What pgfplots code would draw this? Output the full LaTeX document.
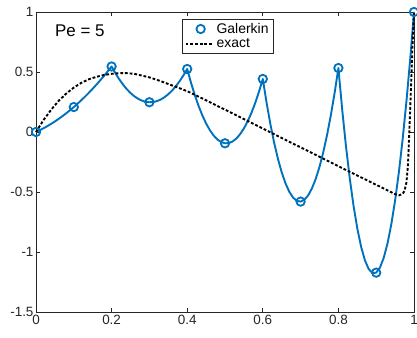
\documentclass[border=0pt]{standalone}
\usepackage{pgfplots}
\pgfplotsset{compat=1.18}
\usepackage{pgfplotstable}
\usepackage{fontspec}
\setmainfont{Liberation Sans}
\definecolor{galblue}{RGB}{0,114,189}
\definecolor{axgray}{RGB}{38,38,38}

\pgfplotsset{
  galleg/.style={legend image code/.code={\draw[##1] plot coordinates {(15bp,0bp)};}},
  exleg/.style={legend image code/.code={\draw[##1] (0bp,0bp) -- (28bp,0bp);}},
}

\pgfplotstableread{
x y
0.00 0.000
0.01 0.015
0.02 0.0312
0.03 0.0488
0.04 0.0676
0.05 0.0878
0.06 0.1092
0.07 0.1320
0.08 0.1560
0.09 0.1813
0.10 0.208
0.11 0.2360
0.12 0.2652
0.13 0.2958
0.14 0.3276
0.15 0.3608
0.16 0.3952
0.17 0.4310
0.18 0.4680
0.19 0.5064
0.20 0.546
0.21 0.4904
0.22 0.4404
0.23 0.3963
0.24 0.3578
0.25 0.3252
0.26 0.2982
0.27 0.2771
0.28 0.2616
0.29 0.2520
0.30 0.248
0.31 0.2498
0.32 0.2574
0.33 0.2707
0.34 0.2898
0.35 0.3146
0.36 0.3452
0.37 0.3815
0.38 0.4236
0.39 0.4714
0.40 0.525
0.41 0.4112
0.42 0.3088
0.43 0.2181
0.44 0.1388
0.45 0.0712
0.46 0.0150
0.47 -0.0295
0.48 -0.0626
0.49 -0.0840
0.50 -0.094
0.51 -0.0924
0.52 -0.0792
0.53 -0.0545
0.54 -0.0182
0.55 0.0296
0.56 0.0890
0.57 0.1599
0.58 0.2424
0.59 0.3364
0.60 0.442
0.61 0.2437
0.62 0.0668
0.63 -0.0888
0.64 -0.2230
0.65 -0.3359
0.66 -0.4274
0.67 -0.4976
0.68 -0.5464
0.69 -0.5739
0.70 -0.58
0.71 -0.5647
0.72 -0.5282
0.73 -0.4702
0.74 -0.3910
0.75 -0.2903
0.76 -0.1684
0.77 -0.0250
0.78 0.1396
0.79 0.3257
0.80 0.533
0.81 0.1880
0.82 -0.1182
0.83 -0.3856
0.84 -0.6142
0.85 -0.8042
0.86 -0.9552
0.87 -1.0676
0.88 -1.1412
0.89 -1.1760
0.90 -1.172
0.91 -1.1292
0.92 -1.0478
0.93 -0.9274
0.94 -0.7684
0.95 -0.5706
0.96 -0.3340
0.97 -0.0586
0.98 0.2554
0.99 0.6084
1.00 1.0
}\galline

\pgfplotstableread{
x y
0.0 0.0
0.1 0.208
0.2 0.546
0.3 0.248
0.4 0.525
0.5 -0.094
0.6 0.442
0.7 -0.58
0.8 0.533
0.9 -1.172
1.0 1.0
}\galnodes

\pgfplotstableread{
x y
0.00 0.00
0.02 0.10
0.04 0.185
0.06 0.26
0.08 0.32
0.10 0.37
0.12 0.41
0.14 0.44
0.16 0.46
0.18 0.475
0.20 0.485
0.22 0.49
0.24 0.49
0.26 0.485
0.28 0.47
0.30 0.455
0.32 0.435
0.35 0.40
0.38 0.365
0.40 0.34
0.43 0.295
0.50 0.186
0.60 0.029
0.70 -0.128
0.80 -0.285
0.90 -0.44
0.95 -0.518
0.96 -0.528
0.97 -0.515
0.975 -0.49
0.98 -0.42
0.984 -0.28
0.987 -0.05
0.99 0.2
0.993 0.45
0.996 0.72
1.00 1.00
}\exact

\begin{document}
\begin{tikzpicture}
\begin{axis}[
  scale only axis,
  width=378bp, height=300bp,
  xmin=0, xmax=1, ymin=-1.5, ymax=1,
  xtick={0,0.2,0.4,0.6,0.8,1},
  xticklabels={0,0.2,0.4,0.6,0.8,1},
  ytick={-1.5,-1,-0.5,0,0.5,1},
  yticklabels={-1.5,-1,-0.5,0,0.5,1},
  tick align=inside,
  major tick length=4bp,
  axis line style={axgray, line width=0.7bp},
  every tick/.style={axgray, line width=0.7bp},
  tick label style={font=\fontsize{13.5}{16}\selectfont, text=axgray},
  yticklabel style={xshift=1bp},
  clip=false,
  legend style={
    at={(0.386,0.977)}, anchor=north west,
    draw=axgray, line width=0.6bp,
    font=\fontsize{14}{16}\selectfont,
    inner xsep=2.5bp, inner ysep=2bp,
    row sep=0bp,
    /tikz/every even column/.append style={column sep=0bp},
  },
  legend cell align=left,
]
\addplot[galblue, line width=1.9bp, line join=round, forget plot] table[x=x,y=y] {\galline};
\addplot[only marks, mark=o, mark size=4.2bp, galblue, mark options={line width=1.8bp}, galleg] table[x=x,y=y] {\galnodes};
\addlegendentry{Galerkin}
\addplot[black, line width=1.9bp, dash pattern=on 2.8bp off 1.9bp, exleg] table[x=x,y=y] {\exact};
\addlegendentry{exact}
\node[anchor=west, inner sep=0pt, font=\fontsize{17}{20}\selectfont, text=black] at (rel axis cs:0.05,0.937) {Pe = 5};
\end{axis}
\pgfresetboundingbox
\useasboundingbox (-36bp,-26bp) rectangle (381bp,312bp);
\end{tikzpicture}
\end{document}
